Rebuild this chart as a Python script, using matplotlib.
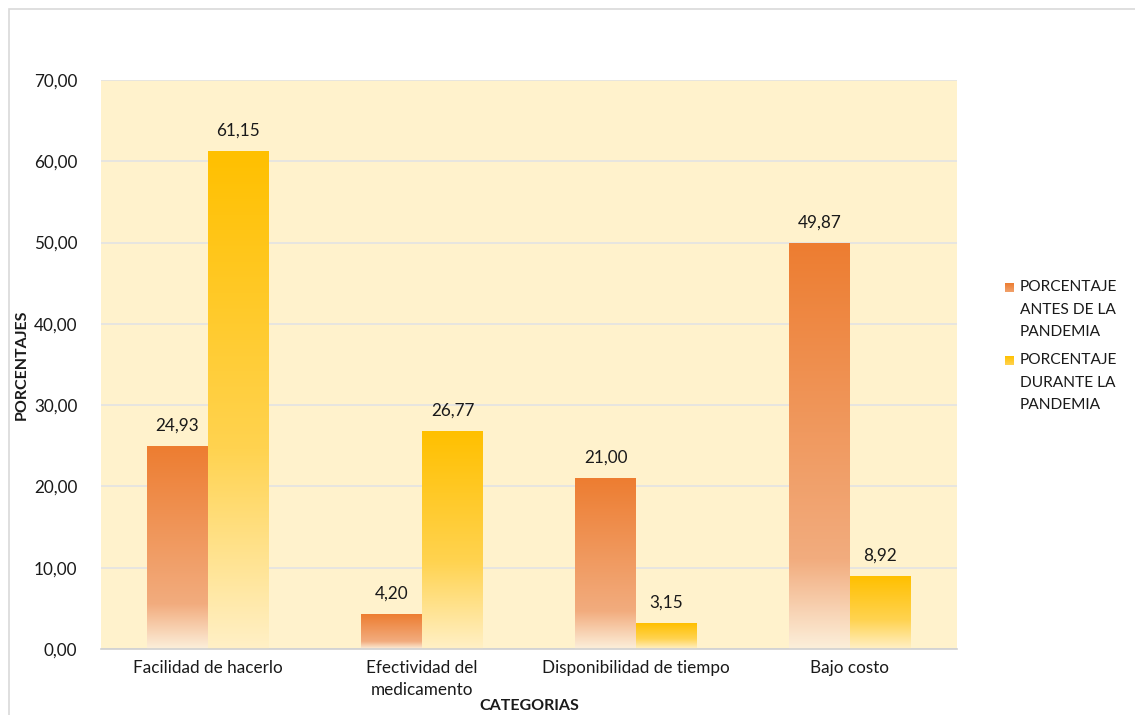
import numpy as np
import matplotlib
matplotlib.use("Agg")
import matplotlib.pyplot as plt
from matplotlib.colors import to_rgb
from matplotlib.patches import Rectangle

plt.rcParams['font.family'] = ['Lato', 'DejaVu Sans']

categorias = ["Facilidad de hacerlo", "Efectividad del\nmedicamento",
              "Disponibilidad de tiempo", "Bajo costo"]
antes = [24.93, 4.20, 21.00, 49.87]
durante = [61.15, 26.77, 3.15, 8.92]
series_labels = ["PORCENTAJE\nANTES DE LA\nPANDEMIA", "PORCENTAJE\nDURANTE LA\nPANDEMIA"]

bg = "#FFF2CC"
txt = "#1a1a1a"
fs = 12.3
# gradient stops: (position from top, colour)
stops_orange = [(0.0, "#ED7D31"), (0.78, "#F2AC7E"), (1.0, "#FCEFDA")]
stops_yellow = [(0.0, "#FFC000"), (0.6, "#FFD350"), (1.0, "#FFF0C6")]


def gradient(stops, n=200):
    pos = np.linspace(0, 1, n)
    cols = np.array([to_rgb(c) for _, c in stops])
    p = [s for s, _ in stops]
    rgb = np.stack([np.interp(pos, p, cols[:, k]) for k in range(3)], axis=1)
    return rgb[:, None, :]


fig = plt.figure(figsize=(11.35, 7.15), dpi=100)
ax = fig.add_axes([101 / 1135, 1 - 649 / 715, (957 - 101) / 1135, (649 - 80) / 715])
ax.set_facecolor(bg)

# outer chart border
fig.patches.append(Rectangle((9 / 1135, -0.1), 1.2, 1 - 9 / 715 + 0.1, transform=fig.transFigure,
                             fill=False, edgecolor="#D9D9D9", linewidth=1.2))

x = np.arange(len(categorias))
w = 0.285
grad_o = gradient(stops_orange)
grad_y = gradient(stops_yellow)

for vals, off, grad in [(antes, -w / 2, grad_o), (durante, w / 2, grad_y)]:
    bars = ax.bar(x + off, vals, w, color="none", edgecolor="none", zorder=3)
    for b, v in zip(bars, vals):
        x0 = b.get_x()
        ax.imshow(grad, extent=[x0, x0 + w, 0, v], aspect='auto', zorder=3,
                  interpolation='bilinear')
        ax.text(b.get_x() + w / 2, v + 1.6, f"{v:.2f}".replace(".", ","),
                ha="center", va="bottom", fontsize=fs, color=txt, zorder=4)

ax.set_xlim(-0.5, len(categorias) - 0.5)
ax.set_ylim(0, 70)
ax.set_yticks(np.arange(0, 71, 10))
ax.set_yticklabels([f"{v:.2f}".replace(".", ",") for v in np.arange(0, 71, 10)])
ax.set_xticks(x)
ax.set_xticklabels(categorias, linespacing=1.45)
ax.tick_params(axis="both", length=0, labelsize=fs, colors=txt)
ax.tick_params(axis="y", pad=17)
ax.tick_params(axis="x", pad=8)
ax.grid(axis="y", color="#E3E3E3", linewidth=1.2, zorder=0)
ax.set_axisbelow(True)
for s in ["left", "right", "top"]:
    ax.spines[s].set_visible(False)
ax.spines["bottom"].set_color("#D0D0D0")
ax.spines["bottom"].set_linewidth(1.2)
ax.spines["bottom"].set_zorder(5)

fig.text(22 / 1135, 1 - 365 / 715, "PORCENTAJES", rotation=90, ha="center", va="center",
         fontsize=11.5, fontweight="bold", color=txt)
fig.text(529 / 1135, 1 - 706 / 715, "CATEGORIAS", ha="center", va="center",
         fontsize=11.5, fontweight="bold", color=txt)

# legend drawn by hand: square aligned with first line, wide line spacing
leg_cols = [grad_o, grad_y]
leg_tops = [280, 353]
for lab, g, top in zip(series_labels, leg_cols, leg_tops):
    lax = fig.add_axes([1005 / 1135, 1 - (top + 12) / 715, 9 / 1135, 9 / 715])
    lax.imshow(g[:120], aspect='auto', extent=[0, 1, 0, 1])
    lax.axis("off")
    fig.text(1020 / 1135, 1 - top / 715, lab, ha="left", va="top", fontsize=11.2,
             color=txt, linespacing=1.78)

fig.savefig("out.png", dpi=100)
